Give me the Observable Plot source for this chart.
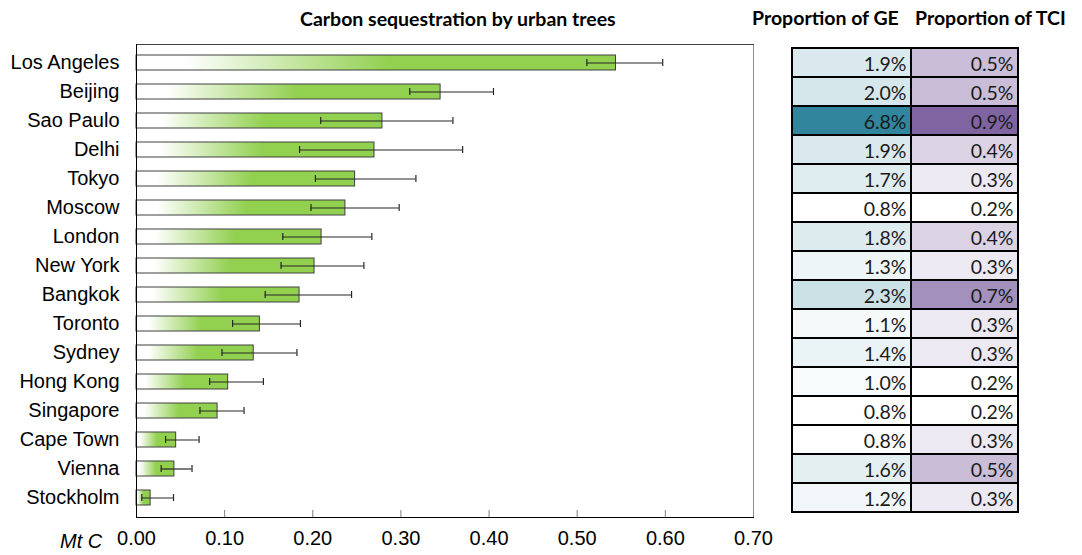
<!DOCTYPE html>
<html>
<head>
<meta charset="utf-8">
<script src="https://cdn.jsdelivr.net/npm/d3@7"></script>
<script src="https://cdn.jsdelivr.net/npm/@observablehq/plot@0.6"></script>
<style>
  body { margin: 0; background: #fff; }
  #wrap { position: relative; width: 1082px; height: 555px; overflow: hidden; }
  #wrap > svg, #wrap > div { position: absolute; }
  .hdr { font-family: Lato, "Open Sans", sans-serif; font-weight: 700; font-size: 19.5px; line-height: 20px; color: #000; white-space: nowrap; }
  .unit { font-family: "Liberation Sans", Arial, sans-serif; font-style: italic; font-size: 20px; line-height: 20px; color: #000; white-space: nowrap; }
</style>
</head>
<body>
<div id="wrap"></div>
<script>
// Cities, top to bottom
const cities = ["Los Angeles", "Beijing", "Sao Paulo", "Delhi", "Tokyo", "Moscow", "London", "New York",
  "Bangkok", "Toronto", "Sydney", "Hong Kong", "Singapore", "Cape Town", "Vienna", "Stockholm"];

// Carbon sequestration by urban trees (Mt C) with uncertainty range
const sequestration = [0.544, 0.345, 0.279, 0.270, 0.248, 0.237, 0.210, 0.202, 0.185, 0.140, 0.133, 0.104, 0.092, 0.045, 0.043, 0.016];
const errLow  = [0.511, 0.310, 0.209, 0.185, 0.203, 0.198, 0.166, 0.164, 0.146, 0.109, 0.097, 0.083, 0.072, 0.033, 0.028, 0.006];
const errHigh = [0.597, 0.405, 0.359, 0.370, 0.317, 0.298, 0.267, 0.258, 0.244, 0.186, 0.182, 0.144, 0.122, 0.071, 0.063, 0.042];

// Shares (%) shown in the side table
const geShare  = [1.9, 2.0, 6.8, 1.9, 1.7, 0.8, 1.8, 1.3, 2.3, 1.1, 1.4, 1.0, 0.8, 0.8, 1.6, 1.2];
const tciShare = [0.5, 0.5, 0.9, 0.4, 0.3, 0.2, 0.4, 0.3, 0.7, 0.3, 0.3, 0.2, 0.2, 0.3, 0.5, 0.3];

// Axis ticks
const xTicks = [0, 0.1, 0.2, 0.3, 0.4, 0.5, 0.6, 0.7];

const rows = cities.map((city, i) => ({
  city, value: sequestration[i], low: errLow[i], high: errHigh[i], ge: geShare[i], tci: tciShare[i]
}));

const wrap = document.getElementById("wrap");
const labelFont = '"Liberation Sans", Arial, sans-serif';
const tableFont = 'Lato, "Open Sans", sans-serif';

// Bar chart
const chart = Plot.plot({
  width: 770,
  height: 555,
  marginLeft: 136,
  marginRight: 17,
  marginTop: 44,
  marginBottom: 38,
  style: { fontFamily: labelFont, fontSize: "20px", color: "#000", background: "transparent", overflow: "visible" },
  x: { domain: [0, 0.7], label: null },
  y: { domain: cities, paddingInner: 0.47, paddingOuter: 0.235, label: null },
  marks: [
    Plot.barX(rows, { x: "value", y: "city", fill: "url(#greenFade)", stroke: "#404040", strokeWidth: 1, inset: 0 }),
    Plot.ruleY(rows, { y: "city", x1: "low", x2: "high", stroke: "#262626", strokeWidth: 1.2 }),
    Plot.tickX(rows, { x: "low", y: "city", stroke: "#262626", strokeWidth: 1.2, insetTop: 4, insetBottom: 4 }),
    Plot.tickX(rows, { x: "high", y: "city", stroke: "#262626", strokeWidth: 1.2, insetTop: 4, insetBottom: 4 }),
    Plot.frame({ stroke: "#8c8c8c" }),
    Plot.frame({ anchor: "top", stroke: "#404040" }),
    Plot.frame({ anchor: "left", stroke: "#000" }),
    Plot.frame({ anchor: "bottom", stroke: "#000" }),
    Plot.axisX({ ticks: xTicks, tickSize: 0, tickPadding: 13, tickFormat: d3.format(".2f") }),
    Plot.axisX({ ticks: xTicks.slice(1, -1), tickSize: -7, tickFormat: () => "", stroke: "#7f7f7f" }),
    Plot.axisY({ tickSize: 0, tickPadding: 17 })
  ]
});

// Horizontal white-to-green fade used by every bar
const defs = d3.select(chart).insert("defs", ":first-child");
const grad = defs.append("linearGradient").attr("id", "greenFade").attr("x1", 0).attr("x2", 1).attr("y1", 0).attr("y2", 0);
grad.append("stop").attr("offset", "0%").attr("stop-color", "#ffffff");
grad.append("stop").attr("offset", "10%").attr("stop-color", "#ffffff");
grad.append("stop").attr("offset", "53%").attr("stop-color", "#92d050");
grad.append("stop").attr("offset", "100%").attr("stop-color", "#92d050");

chart.style.left = "0px";
chart.style.top = "0px";
wrap.appendChild(chart);

// One heat-coloured table column
function tableColumn(field, maxColor, left, colWidth) {
  const vals = rows.map(d => d[field]);
  const col = Plot.plot({
    width: colWidth + 4,
    height: 555,
    marginLeft: 2,
    marginRight: 2,
    marginTop: 43,
    marginBottom: 39,
    style: { fontFamily: tableFont, fontSize: "19.5px", color: "#000", background: "transparent", overflow: "visible" },
    x: { axis: null },
    y: { domain: cities, padding: 0, axis: null },
    color: { type: "linear", domain: [d3.min(vals), d3.max(vals)], range: ["#ffffff", maxColor] },
    marks: [
      Plot.cell(rows, { y: "city", fill: field, stroke: "#000", strokeWidth: 2, inset: 0 }),
      Plot.text(rows, {
        y: "city", text: d => d[field].toFixed(1) + "%", frameAnchor: "right", textAnchor: "end",
        dx: -5, dy: 2, fill: "#1a1a1a"
      })
    ]
  });
  col.style.left = (left - 2) + "px";
  col.style.top = "0px";
  wrap.appendChild(col);
}

tableColumn("ge", "#31859c", 792, 119);
tableColumn("tci", "#8064a2", 911, 107);

// Titles and unit label
function addText(cls, text, left, top) {
  const el = document.createElement("div");
  el.className = cls;
  el.textContent = text;
  el.style.left = left + "px";
  el.style.top = top + "px";
  wrap.appendChild(el);
  return el;
}
addText("hdr", "Carbon sequestration by urban trees", 300, 9);
addText("hdr", "Proportion of GE", 752, 8);
addText("hdr", "Proportion of TCI", 915, 8);
addText("unit", "Mt C", 60, 531);
</script>
</body>
</html>
